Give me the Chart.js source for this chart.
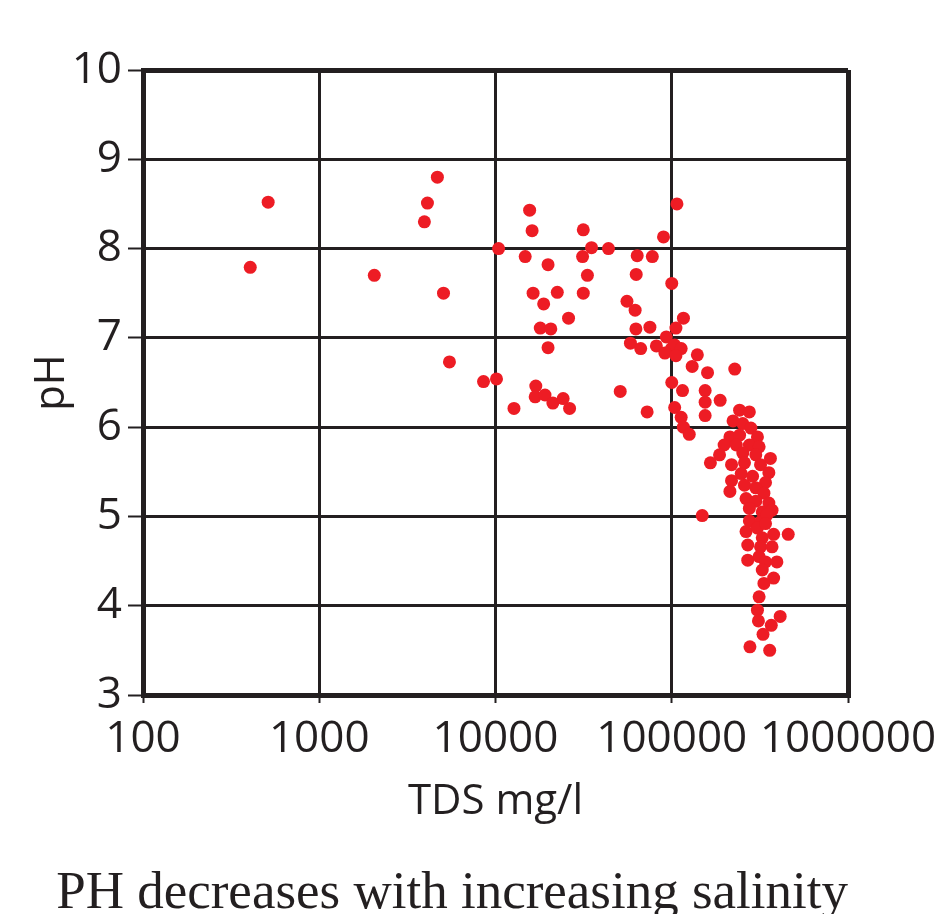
<!DOCTYPE html>
<html>
<head>
<meta charset="utf-8">
<script src="https://cdn.jsdelivr.net/npm/chart.js@4.4.1/dist/chart.umd.min.js"></script>
<style>
  html, body { margin: 0; padding: 0; background: #fff; overflow: hidden; }
  #wrap { width: 949px; height: 914px; position: relative; }
</style>
</head>
<body>
<div id="wrap"><canvas id="phChart"></canvas></div>
<script>
// TDS (mg/l) and pH for each sample
const tdsValues = [
  406, 513, 2053, 4110, 3950, 4680, 5070, 5480, 8550, 10130, 10410, 12730,
  15620, 16130, 14740, 19870, 31480, 35060, 31190, 43750, 63680, 77590, 89800, 107000,
  33230, 62850, 31480, 16340, 22420, 18760, 100000, 55700, 61970, 25970, 116500,
  17950, 20600, 62610, 75170, 105600, 19870, 58300, 66650, 81800, 93110, 99600,
  103900, 113100, 91410, 105600, 139700, 130600, 159600, 16930, 16790, 19090,
  21160, 24200, 26320, 51020, 72500, 100000, 115100, 154700, 154700, 154700,
  188200, 103900, 113100, 116400, 125700, 227800, 148900,
  242600, 275600, 222700, 253000, 281200, 213800, 242600, 306300, 198200, 232400,
  275600, 313100, 186700, 253000, 299800, 362900, 165700, 218400, 258700, 319000,
  355600, 247800, 218400, 287500, 340400, 213800, 258700, 299800, 333400, 264000,
  299800, 355600, 275600, 326300, 370700, 275600, 319000, 347500, 264000, 306300,
  378500, 458000, 340400, 326300, 269900, 319000, 370700, 269900, 313100, 340400,
  395000, 326300, 378500, 333400, 313100, 306300, 310300, 412300, 367000, 329500,
  277700, 359500
];
const phValues = [
  7.79, 8.52, 7.70, 8.51, 8.30, 8.80, 7.50, 6.73, 6.51, 6.54, 8.00, 6.21,
  8.43, 8.20, 7.91, 7.82, 8.21, 8.01, 7.91, 8.00, 7.92, 7.91, 8.13, 8.50,
  7.70, 7.71, 7.50, 7.50, 7.51, 7.38, 7.61, 7.41, 7.31, 7.22, 7.22,
  7.11, 7.10, 7.10, 7.12, 7.11, 6.89, 6.94, 6.88, 6.91, 7.01, 6.88,
  6.92, 6.88, 6.83, 6.80, 6.81, 6.68, 6.61, 6.46, 6.34, 6.36,
  6.27, 6.32, 6.21, 6.40, 6.17, 6.50, 6.41, 6.41, 6.28, 6.13,
  6.30, 6.22, 6.11, 6.00, 5.92, 6.65, 5.01,
  6.19, 6.17, 6.07, 6.04, 5.99, 5.89, 5.91, 5.89, 5.80, 5.80,
  5.80, 5.78, 5.69, 5.71, 5.69, 5.65, 5.60, 5.58, 5.60, 5.58,
  5.49, 5.48, 5.40, 5.45, 5.38, 5.28, 5.35, 5.32, 5.26, 5.20,
  5.17, 5.15, 5.09, 5.05, 5.07, 4.95, 4.94, 5.02, 4.83, 4.87,
  4.80, 4.80, 4.92, 4.76, 4.68, 4.66, 4.66, 4.51, 4.55, 4.49,
  4.49, 4.40, 4.31, 4.25, 4.10, 3.95, 3.83, 3.88, 3.78, 3.68,
  3.54, 3.50
];
const xTicks = [100, 1000, 10000, 100000, 1000000];
const yMin = 3, yMax = 10;

const ink = '#231f20';
const dotColor = '#ed1c24';
const sans = "'Open Sans', 'Noto Sans', sans-serif";

const points = tdsValues.map((t, i) => ({ x: t, y: phValues[i] }));

const edgeWidth = (c) => (c.index === 0 || c.index === c.scale.ticks.length - 1) ? 5 : 3;

new Chart(document.getElementById('phChart'), {
  type: 'scatter',
  data: {
    datasets: [{
      data: points,
      backgroundColor: dotColor,
      borderColor: dotColor,
      borderWidth: 0,
      pointRadius: 6.5
    }]
  },
  options: {
    responsive: true,
    maintainAspectRatio: false,
    animation: false,
    layout: { padding: { top: 70, right: 101, left: 0, bottom: 0 } },
    plugins: {
      legend: { display: false },
      tooltip: { enabled: false },
      title: {
        display: true,
        position: 'bottom',
        align: 'end',
        text: 'PH decreases with increasing salinity',
        color: ink,
        font: { family: "'Liberation Serif', 'DejaVu Serif', serif", size: 53, weight: 'normal' },
        padding: { top: 0, bottom: -12 }
      }
    },
    scales: {
      x: {
        type: 'logarithmic',
        min: xTicks[0],
        max: xTicks[xTicks.length - 1],
        afterBuildTicks: (axis) => { axis.ticks = xTicks.map(v => ({ value: v })); },
        afterFit: (axis) => { axis.height = 167.4; },
        ticks: {
          color: ink,
          font: { family: sans, size: 44 },
          padding: 10,
          maxRotation: 0,
          autoSkip: false,
          callback: (v) => String(v)
        },
        grid: { color: ink, lineWidth: edgeWidth, tickLength: 8, tickWidth: 2 },
        border: { display: true, color: ink, width: 5 },
        title: {
          display: true,
          text: 'TDS mg/l',
          color: ink,
          font: { family: sans, size: 42 },
          padding: { top: 0, bottom: 35 }
        }
      },
      y: {
        min: yMin,
        max: yMax,
        afterFit: (axis) => { axis.width = 143; },
        ticks: {
          stepSize: 1,
          color: ink,
          font: { family: sans, size: 44 },
          padding: 6
        },
        grid: { color: ink, lineWidth: edgeWidth, tickLength: 15, tickWidth: 2 },
        border: { display: true, color: ink, width: 5 },
        title: {
          display: true,
          text: 'pH',
          color: ink,
          font: { family: sans, size: 42 },
          padding: { top: 27, bottom: 0 }
        }
      }
    }
  }
});
</script>
</body>
</html>
